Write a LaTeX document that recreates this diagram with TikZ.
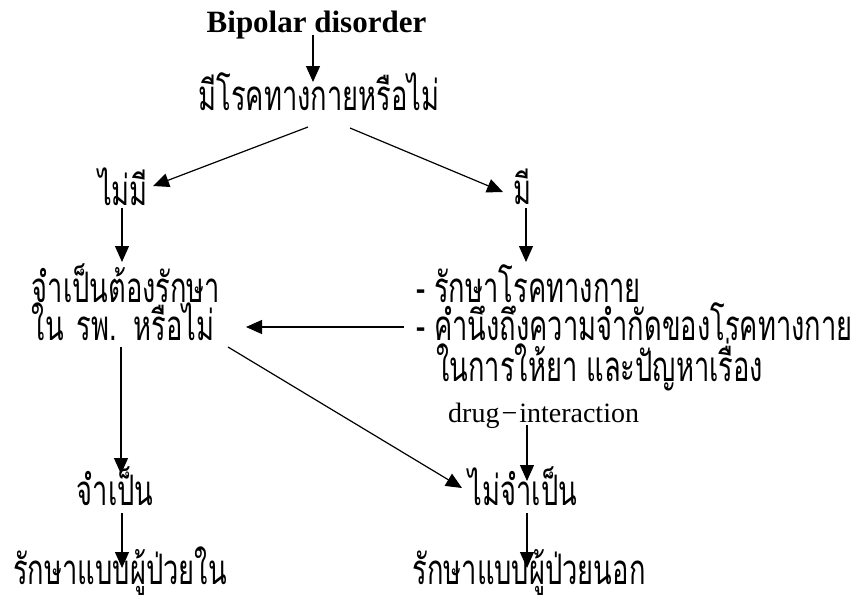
\documentclass[tikz,border=0pt]{standalone}
\usepackage{fontspec}
\setmainfont{Liberation Serif}
\newfontfamily\thai[Script=Thai,FakeStretch=0.65]{Loma}
\usetikzlibrary{arrows.meta,calc}
\tikzset{
  th/.style={font=\thai\fontsize{42}{48}\selectfont,inner sep=0pt,anchor=base,text height=28pt,text depth=8pt},
  thw/.style={th,anchor=base west},
  arr/.style={line width=1.2pt,-{Triangle[length=16pt,width=14pt]}}
}
\begin{document}
\begin{tikzpicture}[x=1pt,y=-1pt]
\useasboundingbox (0,0) rectangle (854,603);
\node[font=\bfseries\fontsize{31}{36}\selectfont,inner sep=0pt,anchor=base] (bip) at (316.5,32) {Bipolar disorder};
\node[th] (q1) at (319,110) {มีโรคทางกายหรือไม่};
\node[th] (nomi) at (123,205) {ไม่มี};
\node[th] (mi) at (522,204) {มี};
\node[th] (need) at (126,302) {จำเป็นต้องรักษา};
\node[th] (need2) at (123,340) {ใน\hspace{4pt} รพ.\hspace{4pt} หรือไม่};
\node[thw] (r1) at (416,302) {-\hspace{9pt}รักษาโรคทางกาย};
\node[thw] (r2) at (416,340) {-\hspace{9pt}คำนึงถึงความจำกัดของโรคทางกาย};
\node[thw] (r3) at (436,381) {ในการให้ยา และปัญหาเรื่อง};
\node[font=\fontsize{28}{32}\selectfont,inner sep=0pt,anchor=base west] (drug) at (448,422) {drug{\kern2pt}−{\kern2pt}interaction};
\node[th] (nec) at (115,505) {จำเป็น};
\node[th] (nn) at (523,505) {ไม่จำเป็น};
\node[th] (b1) at (120,584) {รักษาแบบผู้ป่วยใน};
\node[th] (b2) at (529,584) {รักษาแบบผู้ป่วยนอก};
\draw[arr] ($(bip.base)+(-3.5,3)$) -- ($(q1.base)+(-6,-28)$);
\draw[arr] ($(q1.base)+(-11,17)$) -- ($(nomi.base)+(30,-19)$);
\draw[arr] ($(q1.base)+(31,18)$) -- ($(mi.base)+(-19,-12)$);
\draw[arr] ($(nomi.base)+(-1,3)$) -- ($(need.base)+(-4,-40)$);
\draw[arr] ($(mi.base)+(4,4)$) -- ($(r1.base west)+(110,-40)$);
\draw[arr] ($(r2.base west)+(-12,-13)$) -- ($(need2.base)+(123,-13)$);
\draw[arr] ($(need2.base)+(105,7)$) -- ($(nn.base)+(-61,-17)$);
\draw[arr] ($(need2.base)+(-2,7)$) -- ($(nec.base)+(6,-31)$);
\draw[arr] ($(drug.base west)+(79,3)$) -- ($(nn.base)+(4,-24)$);
\draw[arr] ($(nec.base)+(7,8)$) -- ($(b1.base)+(2,-16)$);
\draw[arr] ($(nn.base)+(4,8)$) -- ($(b2.base)+(-2,-16)$);
\end{tikzpicture}
\end{document}
